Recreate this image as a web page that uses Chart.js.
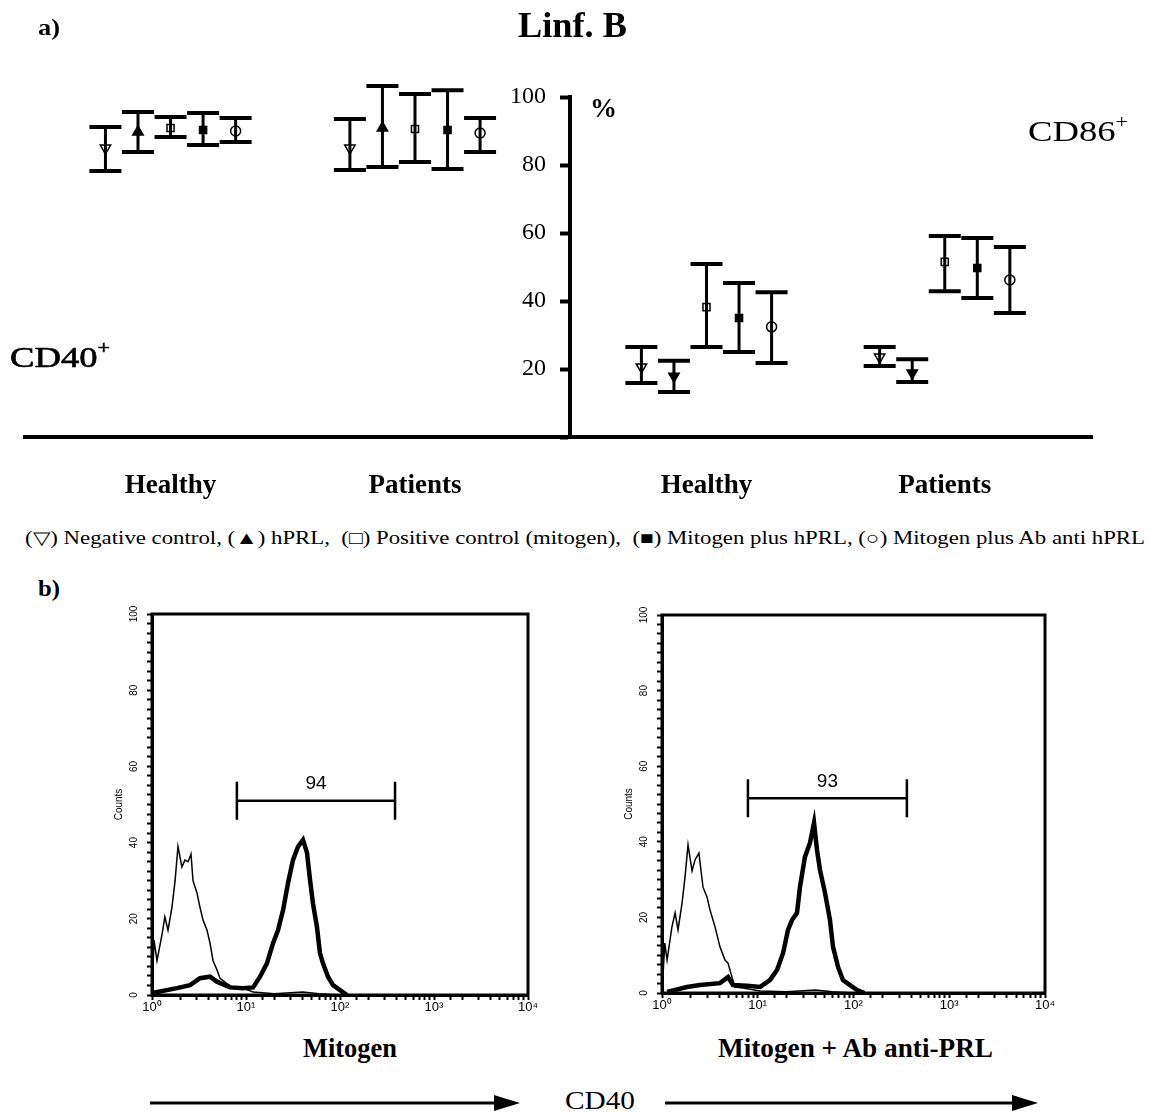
<!DOCTYPE html>
<html><head><meta charset="utf-8">
<script src="https://cdn.jsdelivr.net/npm/chart.js@4.4.0/dist/chart.umd.min.js"></script>
<style>
html,body{margin:0;padding:0;background:#fff;}
#page{position:relative;width:1150px;height:1113px;overflow:hidden;background:#fff;}
.t{position:absolute;white-space:nowrap;line-height:1;color:#000;font-family:"Liberation Serif","Times New Roman",serif;transform-origin:0 0;}
.b{font-weight:bold;}
canvas{position:absolute;}
</style></head><body>
<div id="page">
<canvas id="chartA" width="1150" height="520" style="left:0;top:0;width:1150px;height:520px"></canvas>
<canvas id="chartB1" width="450" height="440" style="left:100px;top:585px;width:450px;height:440px"></canvas>
<canvas id="chartB2" width="450" height="440" style="left:610px;top:585px;width:450px;height:440px"></canvas>

<div class="t b" data-w="22" style="left:38px;top:15px;font-size:24px">a)</div>
<div class="t b" data-w="109" style="left:518px;top:7px;font-size:36px">Linf. B</div>
<div class="t b" data-w="27" style="left:590px;top:94px;font-size:28px">%</div>
<div class="t" data-w="100" style="left:10px;top:342px;font-size:30px;-webkit-text-stroke:0.6px #000">CD40<span style="font-size:0.6em;position:relative;top:-0.7em">+</span></div>
<div class="t" data-w="100" style="left:1028px;top:116px;font-size:30px">CD86<span style="font-size:0.6em;position:relative;top:-0.7em">+</span></div>
<div class="t" data-w="1120" style="left:25px;top:529px;font-size:18px">(▽) Negative control, (▲) hPRL,&nbsp; (□) Positive control (mitogen),&nbsp; (■) Mitogen plus hPRL, (○) Mitogen plus Ab anti hPRL</div>
<div class="t b" data-w="22" style="left:38px;top:576px;font-size:24px">b)</div>
<div class="t b" data-w="94" style="left:303px;top:1034px;font-size:28px">Mitogen</div>
<div class="t b" data-w="275" style="left:718px;top:1034px;font-size:28px">Mitogen + Ab anti-PRL</div>
<div class="t" data-w="70" style="left:565px;top:1088px;font-size:26px">CD40</div>

<svg width="1150" height="1113" style="position:absolute;left:0;top:0;pointer-events:none">
  <line x1="150" y1="1103" x2="500" y2="1103" stroke="#000" stroke-width="3"/>
  <polygon points="520,1103 494,1095 494,1111" fill="#000"/>
  <line x1="665" y1="1103" x2="1018" y2="1103" stroke="#000" stroke-width="3"/>
  <polygon points="1038,1103 1012,1095 1012,1111" fill="#000"/>
</svg>
</div>
<script>
// ---------------- Panel a data ----------------
const groups = ['Healthy', 'Patients', 'Healthy', 'Patients'];
const markers = ['CD40+', 'CD40+', 'CD86+', 'CD86+'];
const seriesNames = ['Negative control', 'hPRL', 'Positive control (mitogen)', 'Mitogen plus hPRL', 'Mitogen plus Ab anti hPRL'];

const negMean  = [85.0, 85.0, 20.6, 23.5];
const negLow   = [78.2, 78.5, 15.9, 20.9];
const negHigh  = [91.2, 93.5, 26.5, 26.5];

const hprlMean = [89.7, 90.9, 17.9, 18.8];
const hprlLow  = [83.8, 79.4, 13.2, 16.2];
const hprlHigh = [95.6, 103.2, 22.4, 22.9];

const posMean  = [90.9, 90.6, 38.2, 51.5];
const posLow   = [88.2, 80.9, 26.5, 42.9];
const posHigh  = [94.1, 100.9, 50.9, 59.1];

const mitPrlMean = [90.3, 90.3, 35.0, 49.7];
const mitPrlLow  = [85.9, 78.8, 25.0, 40.9];
const mitPrlHigh = [95.3, 102.0, 45.3, 58.5];

const mitAbMean = [90.0, 89.4, 32.4, 46.2];
const mitAbLow  = [86.8, 83.8, 21.8, 36.5];
const mitAbHigh = [93.8, 93.8, 42.6, 55.9];

const yTicksA = [0, 20, 40, 60, 80, 100];

// ---------------- Panel b data (flow cytometry histograms) ----------------
const ctrlMitogenX = [1.0, 1.05, 1.13, 1.28, 1.37, 1.48, 1.63, 1.76, 1.89, 2.08, 2.24, 2.42, 2.60, 2.73, 3.01, 3.24, 3.49, 3.85, 4.14, 4.46, 4.91, 5.29, 6.28, 7.27, 9.29, 11.9, 20, 40, 60, 100];
const ctrlMitogenY = [0, 14.4, 9.0, 16, 20.5, 17, 23, 30, 39, 33.6, 35.4, 35, 37, 30, 26.8, 23, 19.7, 17, 13.6, 9, 6.6, 4.4, 3, 2, 1.8, 0.8, 0.3, 0.8, 0.3, 0];
const stimMitogenX = [1.0, 1.84, 2.54, 3.24, 4.14, 4.91, 6.76, 9.29, 11.9, 14.1, 16.7, 19.4, 21.9, 24.8, 28.0, 31.6, 35.7, 40.4, 44.6, 48.0, 51.6, 56.9, 61.2, 65.9, 74.5, 84.3, 100, 119];
const stimMitogenY = [0.5, 1.8, 2.6, 4.4, 4.8, 3.5, 2.0, 1.8, 2.0, 4.8, 8.3, 13.6, 17, 22.3, 29.4, 35.4, 38.9, 40.7, 37.3, 30.2, 24, 17.8, 11, 8.3, 4.8, 2.6, 1.3, 0];

const ctrlAbX = [1.0, 1.07, 1.13, 1.27, 1.37, 1.47, 1.62, 1.74, 1.87, 2.06, 2.21, 2.43, 2.68, 2.95, 3.17, 3.58, 4.03, 4.55, 4.89, 5.38, 5.78, 7.02, 10.6, 20, 40, 60, 100];
const ctrlAbY = [0, 13.2, 8.7, 17.5, 21.2, 16.7, 23.8, 30.7, 39.2, 32.3, 35.2, 37, 28, 25.4, 22, 17.5, 12.2, 8.7, 7.9, 4.2, 1.6, 1.3, 0.5, 0.3, 0.8, 0.3, 0];
const stimAbX = [1.13, 1.82, 2.49, 4.03, 4.89, 5.52, 7.72, 10.6, 13.4, 15.9, 18.4, 20.7, 22.8, 25.7, 27.6, 31.1, 35.1, 38.7, 41.6, 44.7, 50.4, 56.8, 61.1, 68.9, 77.6, 91.9, 109, 130];
const stimAbY = [0.3, 1.6, 2.1, 2.6, 4.2, 2.1, 1.9, 1.6, 3.4, 6.1, 10.6, 16.7, 19.3, 21.2, 28, 36, 39.7, 45, 37.8, 32.5, 26.5, 19.3, 12.2, 6.9, 3.4, 2.1, 0.8, 0];

const gateMitogen = [8.0, 385];
const gateAbAnti = [7.9, 361];
const gateLevel = [51, 51.5];
const gatePercent = ['94', '93'];
const histYTicks = [0, 20, 40, 60, 80, 100];
const histXTicks = [1, 10, 100, 1000, 10000];

// ---------------- layout constants (scale units) ----------------
const GROUP_X = [13.64, 36.55, 63.87, 86.2];
const SPACING = 3.05;
const AXIS_X = 51.08;
const SERIF = '"Liberation Serif","Times New Roman",serif';
const SANS = '"Liberation Sans",Arial,sans-serif';

const seriesStats = [
  [negMean, negLow, negHigh],
  [hprlMean, hprlLow, hprlHigh],
  [posMean, posLow, posHigh],
  [mitPrlMean, mitPrlLow, mitPrlHigh],
  [mitAbMean, mitAbLow, mitAbHigh]
];
const CLEAR = 'rgba(0,0,0,0)';
const seriesStyle = [
  {pointStyle: 'triangle', rotation: 180, bg: CLEAR, r: 6},
  {pointStyle: 'triangle', rotation: (c) => (c.dataIndex >= 2 ? 180 : 0), bg: '#000', r: 6},
  {pointStyle: 'rect', rotation: 0, bg: CLEAR, r: 5},
  {pointStyle: 'rect', rotation: 0, bg: '#000', r: 5},
  {pointStyle: 'circle', rotation: 0, bg: CLEAR, r: 5}
];

const xOf = (g, s) => GROUP_X[g] + (s - 2) * SPACING;

const datasetsA = seriesStats.map((st, s) => ({
  label: seriesNames[s],
  data: st[0].map((m, g) => ({x: xOf(g, s), y: m, lo: st[1][g], hi: st[2][g]})),
  pointStyle: seriesStyle[s].pointStyle,
  rotation: seriesStyle[s].rotation,
  pointRadius: seriesStyle[s].r,
  pointBackgroundColor: seriesStyle[s].bg,
  pointBorderColor: '#000',
  pointBorderWidth: 1.5,
  showLine: false,
  clip: false
}));

const errorBars = {
  id: 'errorBars',
  beforeDatasetsDraw(chart) {
    const {ctx, scales: {x, y}} = chart;
    ctx.save();
    ctx.strokeStyle = '#000';
    chart.data.datasets.forEach(ds => {
      ds.data.forEach(p => {
        const px = x.getPixelForValue(p.x);
        const yl = y.getPixelForValue(p.lo), yh = y.getPixelForValue(p.hi);
        ctx.lineWidth = 3;
        ctx.beginPath(); ctx.moveTo(px, yl); ctx.lineTo(px, yh); ctx.stroke();
        ctx.lineWidth = 4;
        ctx.beginPath();
        ctx.moveTo(px - 16, yl); ctx.lineTo(px + 16, yl);
        ctx.moveTo(px - 16, yh); ctx.lineTo(px + 16, yh);
        ctx.stroke();
      });
    });
    ctx.restore();
  }
};

const groupLabels = {
  id: 'groupLabels',
  afterDraw(chart) {
    const {ctx, scales: {x}} = chart;
    ctx.save();
    ctx.fillStyle = '#000';
    ctx.font = 'bold 27px ' + SERIF;
    ctx.textAlign = 'center';
    ctx.textBaseline = 'alphabetic';
    groups.forEach((g, i) => ctx.fillText(g, x.getPixelForValue(GROUP_X[i]), 493));
    ctx.restore();
  }
};

new Chart(document.getElementById('chartA'), {
  type: 'scatter',
  data: {datasets: datasetsA},
  options: {
    responsive: false, animation: false,
    layout: {padding: {left: 25, right: 58, top: 97, bottom: 83}},
    plugins: {legend: {display: false}, tooltip: {enabled: false}},
    scales: {
      x: {
        type: 'linear', min: 0, max: 100, position: 'bottom',
        ticks: {display: false},
        grid: {display: false, drawTicks: false},
        border: {display: true, color: '#000', width: 4},
        afterFit: s => { s.height = 0; }
      },
      y: {
        type: 'linear', min: 0, max: 100,
        position: {x: AXIS_X},
        afterBuildTicks: s => { s.ticks = yTicksA.map(v => ({value: v})); },
        ticks: {
          color: '#000', padding: 14,
          font: {family: SERIF, size: 24},
          // the centred axis draws its labels flush with the axis line: pad with en spaces
          callback: v => (v === 0 ? '' : String(v) + '\u2002\u2002')
        },
        grid: {drawOnChartArea: false, drawTicks: true, tickLength: 8, tickWidth: 4, tickColor: '#000'},
        border: {display: true, color: '#000', width: 4}
      }
    }
  },
  plugins: [errorBars, groupLabels]
});

// ---------------- Panel b ----------------
const SUP = ['⁰', '¹', '²', '³', '⁴'];
const boxPlugin = {
  id: 'boxFrame',
  afterDraw(chart) {
    const {ctx, chartArea: a} = chart;
    ctx.save();
    ctx.strokeStyle = '#000'; ctx.lineWidth = 3;
    ctx.strokeRect(a.left, a.top, a.right - a.left, a.bottom - a.top);
    ctx.restore();
  }
};
const gatePlugin = {
  id: 'gate',
  afterDatasetsDraw(chart, args, o) {
    const {ctx, scales: {x, y}} = chart;
    const x1 = x.getPixelForValue(o.range[0]), x2 = x.getPixelForValue(o.range[1]);
    const yy = y.getPixelForValue(o.level);
    ctx.save();
    ctx.strokeStyle = '#000'; ctx.lineWidth = 2.5;
    ctx.beginPath();
    ctx.moveTo(x1, yy); ctx.lineTo(x2, yy);
    ctx.moveTo(x1, yy - 19); ctx.lineTo(x1, yy + 19);
    ctx.moveTo(x2, yy - 19); ctx.lineTo(x2, yy + 19);
    ctx.stroke();
    ctx.fillStyle = '#000';
    ctx.font = '19px ' + SANS;
    ctx.textAlign = 'center'; ctx.textBaseline = 'middle';
    ctx.fillText(o.label, (x1 + x2) / 2, yy - 17);
    ctx.restore();
  }
};

function histogram(id, cx, cy, sx, sy, range, level, label, pad, xh) {
  return new Chart(document.getElementById(id), {
    type: 'line',
    data: {datasets: [
      {label: 'control', data: cx.map((v, i) => ({x: v, y: cy[i]})), borderColor: '#000', borderWidth: 1.5, pointRadius: 0, tension: 0, fill: false},
      {label: 'stained', data: sx.map((v, i) => ({x: v, y: sy[i]})), borderColor: '#000', borderWidth: 4.5, pointRadius: 0, tension: 0, fill: false}
    ]},
    options: {
      responsive: false, animation: false,
      layout: {padding: pad},
      plugins: {legend: {display: false}, tooltip: {enabled: false}, gate: {range, level, label}},
      scales: {
        x: {
          type: 'logarithmic', min: 1, max: 10000,
          ticks: {
            autoSkip: false, maxRotation: 0, minRotation: 0, color: '#000', padding: 0,
            font: {family: SANS, size: 13},
            callback: v => { const l = Math.round(Math.log10(v)); return (histXTicks.includes(v) || Math.abs(v - Math.pow(10, l)) < 1e-6) ? '10' + SUP[l] : ''; }
          },
          grid: {drawOnChartArea: false, tickLength: 5, tickWidth: 2, tickColor: '#000'},
          border: {display: true, color: '#000', width: 3},
          afterFit: s => { s.height = xh; }
        },
        y: {
          type: 'linear', min: 0, max: 100,
          afterBuildTicks: s => { const t = []; for (let v = 0; v <= 100; v += 2.5) t.push({value: v}); s.ticks = t; },
          ticks: {
            autoSkip: false,
            color: '#000', padding: 4, minRotation: 90, maxRotation: 90, crossAlign: 'center',
            font: {family: SANS, size: 10},
            callback: v => (histYTicks.includes(v) ? String(v) : '')
          },
          title: {display: true, text: 'Counts', color: '#000', font: {family: SANS, size: 10}, padding: {top: 13, bottom: 0}},
          grid: {drawOnChartArea: false, tickLength: 5, tickWidth: 2, tickColor: '#000'},
          border: {display: true, color: '#000', width: 3},
          afterFit: s => { s.width = 52; }
        }
      }
    },
    plugins: [boxPlugin, gatePlugin]
  });
}

histogram('chartB1', ctrlMitogenX, ctrlMitogenY, stimMitogenX, stimMitogenY, gateMitogen, gateLevel[0], gatePercent[0], {left: 0, right: 22, top: 29, bottom: 0}, 30);
histogram('chartB2', ctrlAbX, ctrlAbY, stimAbX, stimAbY, gateAbAnti, gateLevel[1], gatePercent[1], {left: 0, right: 15, top: 30, bottom: 0}, 32);

// fit text widths
document.querySelectorAll('.t[data-w]').forEach(el => {
  const w = el.getBoundingClientRect().width;
  const target = parseFloat(el.dataset.w);
  el.style.transform = 'scaleX(' + (target / w) + ')';
});
</script>
</body></html>
